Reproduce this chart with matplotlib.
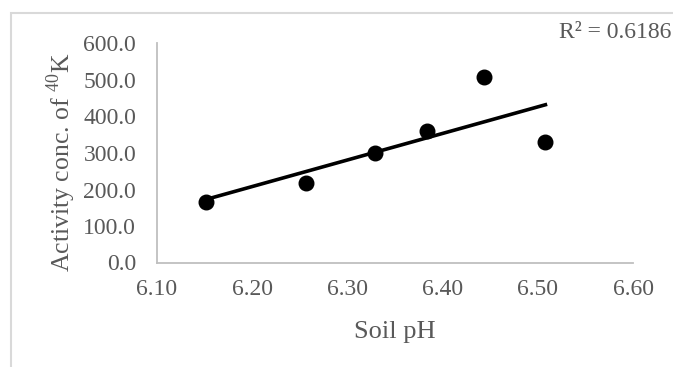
import matplotlib
matplotlib.use("Agg")
import matplotlib.pyplot as plt
from matplotlib.patches import Rectangle
import numpy as np

# ── Data ───────────────────────────────────────────────────────────────────
soil_ph  = [6.151, 6.256, 6.329, 6.384, 6.444, 6.508]
activity = [167.0, 217.0, 301.0, 360.0, 509.0, 329.0]
r2_text  = "R² = 0.6186"

x_ticks = [6.10, 6.20, 6.30, 6.40, 6.50, 6.60]
y_ticks = [0, 100, 200, 300, 400, 500, 600]

# ── Style ──────────────────────────────────────────────────────────────────
plt.rcParams["font.family"] = ["Liberation Serif", "DejaVu Serif"]
plt.rcParams["mathtext.fontset"] = "custom"
plt.rcParams["mathtext.rm"] = "Liberation Serif"
TEXT   = "#595959"
SPINE  = "#bfbfbf"
BORDER = "#d9d9d9"

fig = plt.figure(figsize=(6.73, 3.67), dpi=100)
fig.patch.set_facecolor("white")
fig.patches.append(Rectangle((11 / 673, -0.1), 1.2, (367 - 13) / 367 + 0.1,
                             transform=fig.transFigure, fill=False,
                             edgecolor=BORDER, linewidth=1.5))

ax = fig.add_axes([157 / 673, 104.5 / 367, 476 / 673, 219 / 367])
ax.scatter(soil_ph, activity, s=110, color="black", zorder=3)

# linear trendline over the data range
coef = np.polyfit(soil_ph, activity, 1)
xl = np.array([min(soil_ph), max(soil_ph)])
ax.plot(xl, np.polyval(coef, xl), color="black", linewidth=2.6, zorder=2)

ax.set_xlim(x_ticks[0], x_ticks[-1])
ax.set_ylim(y_ticks[0], y_ticks[-1])
ax.set_xticks(x_ticks)
ax.set_xticklabels([f"{v:.2f}" for v in x_ticks])
ax.set_yticks(y_ticks)
ax.set_yticklabels([f"{v:.1f}" for v in y_ticks])
ax.tick_params(length=0, labelsize=17, colors=TEXT)
ax.tick_params(axis="y", pad=15)
ax.tick_params(axis="x", pad=12)

for side in ("top", "right"):
    ax.spines[side].set_visible(False)
for side in ("left", "bottom"):
    ax.spines[side].set_color(SPINE)
    ax.spines[side].set_linewidth(1.3)

ax.set_xlabel("Soil pH", fontsize=19, color=TEXT, labelpad=15)
ax.set_ylabel(r"Activity conc. of $^{\mathrm{40}}$K", fontsize=18.5, color=TEXT)
ax.yaxis.set_label_coords(-0.166, 0.457)

fig.text(671 / 673, 1 - 33 / 367, r2_text, ha="right", va="center",
         fontsize=17, color=TEXT)

fig.savefig("out.png", dpi=100, facecolor="white")
